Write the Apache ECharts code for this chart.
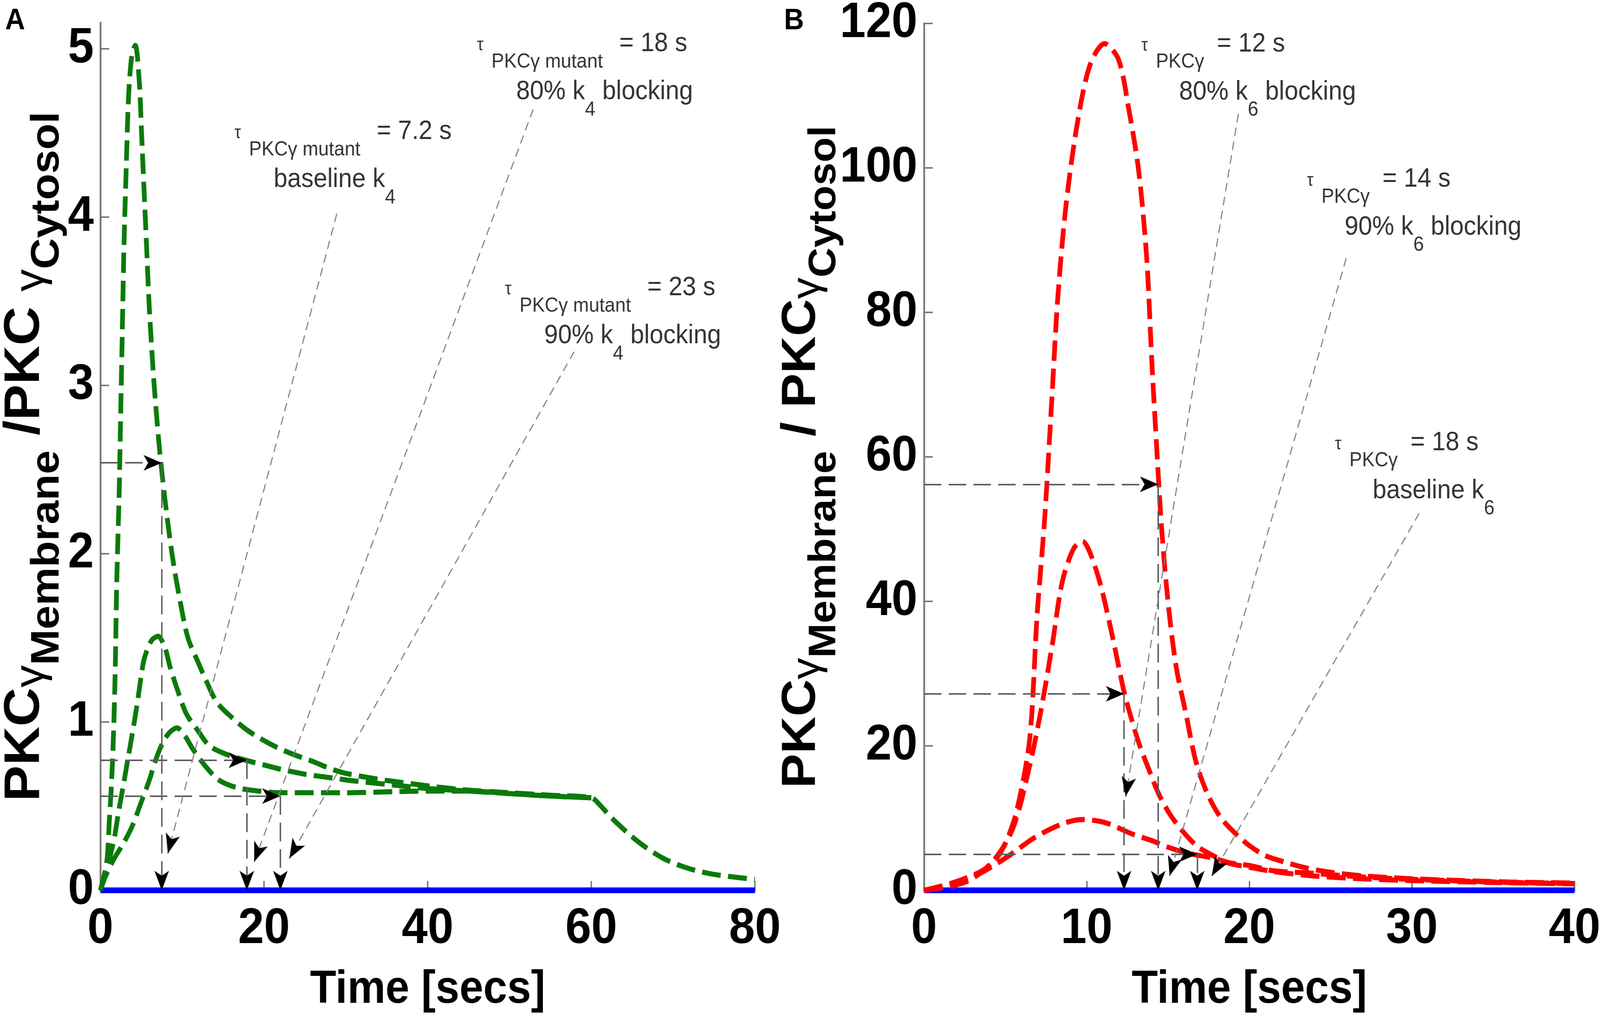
<!DOCTYPE html>
<html>
<head>
<meta charset="utf-8">
<script src="https://cdn.jsdelivr.net/npm/echarts@6/dist/echarts.min.js"></script>
<style>
  html, body { margin: 0; padding: 0; background: #fff; overflow: hidden; }
  #chart { width: 4400px; height: 2612px; transform-origin: 0 0; }
</style>
</head>
<body>
<div id="chart"></div>
<script>
// ---- panel A: PKCγ mutant, k4 blocking (time in s, membrane/cytosol ratio) ----
var tA1 = [0, 0.6, 0.85, 1.1, 1.3, 1.55, 1.8, 2.0, 2.28, 2.48, 2.68, 2.88, 3.17, 3.47, 3.87, 4.27, 4.75, 5.05, 5.35, 5.65, 5.95, 6.35, 6.75, 7.35, 7.95, 8.75, 9.7, 10.7, 11.9, 12.8, 14.2, 16, 18, 20, 22, 24, 26, 28, 30, 34, 37, 41, 45, 50, 55, 60, 61, 62.6, 65.7, 68.8, 71.9, 75, 80];
var yA1 = [0, 0.12, 0.2, 0.42, 0.58, 0.85, 1.28, 1.83, 2.33, 2.83, 3.32, 3.82, 4.31, 4.74, 4.97, 5.02, 4.81, 4.48, 4.15, 3.82, 3.49, 3.16, 2.89, 2.56, 2.30, 2.0, 1.73, 1.50, 1.36, 1.26, 1.12, 1.03, 0.95, 0.89, 0.84, 0.80, 0.765, 0.725, 0.695, 0.66, 0.64, 0.615, 0.595, 0.58, 0.565, 0.55, 0.51, 0.425, 0.29, 0.19, 0.13, 0.095, 0.065];
var tA2 = [0, 0.6, 1.13, 1.7, 2.27, 2.83, 3.4, 3.97, 4.54, 5.24, 5.8, 6.35, 7.05, 7.9, 8.5, 9.36, 10.5, 11.9, 13.3, 15.3, 18, 20, 22, 25, 28, 31, 35, 40, 45, 50, 55, 60];
var yA2 = [0, 0.1, 0.19, 0.31, 0.48, 0.63, 0.79, 0.95, 1.12, 1.35, 1.44, 1.49, 1.51, 1.44, 1.33, 1.2, 1.05, 0.95, 0.86, 0.81, 0.77, 0.745, 0.72, 0.69, 0.67, 0.65, 0.63, 0.605, 0.59, 0.575, 0.56, 0.55];
var tA3 = [0, 0.6, 1.7, 2.83, 3.97, 4.96, 5.95, 6.8, 7.65, 8.5, 9.36, 10.3, 11.3, 12.8, 14.5, 16.7, 19.3, 22, 26, 30, 35, 40, 45, 50, 55, 60];
var yA3 = [0, 0.08, 0.19, 0.28, 0.39, 0.52, 0.65, 0.78, 0.88, 0.94, 0.965, 0.92, 0.84, 0.74, 0.655, 0.61, 0.59, 0.58, 0.58, 0.58, 0.585, 0.59, 0.59, 0.575, 0.56, 0.55];
var baseA = [[0, 0], [80, 0]];
var tauPointA = [[7.5, 2.54], [17.9, 0.773], [22.0, 0.56]];
var calloutA = [[[28.9, 4.02], [8.25, 0.22]], [[52.9, 4.64], [18.8, 0.17]], [[57.9, 3.20], [23.1, 0.19]]];
var tauA = ['7.2', '18', '23'];
var noteA = ['baseline k', '80% k', '90% k'];
var noteAnchorA = [[16.40, 4.584], [46.04, 5.106], [49.47, 3.656]];
var yTicksA = [0, 1, 2, 3, 4, 5];

// ---- panel B: k6 blocking ----
var tB1 = [0, 1.7, 3.4, 4.3, 5.0, 5.7, 6.5, 6.95, 7.42, 7.9, 8.2, 8.7, 9.4, 10.2, 11.1, 11.96, 12.6, 13.2, 13.7, 14.0, 14.35, 14.6, 15.0, 15.5, 16.1, 16.7, 17.4, 18.2, 19.0, 20, 21, 22.2, 23.5, 25, 27, 30, 33, 36, 40];
var yB1 = [0, 1.0, 2.5, 4.0, 6.5, 11, 21, 38, 51.5, 69.6, 81.2, 94.2, 105.8, 114.2, 117.2, 115, 108, 99.6, 87.3, 73.5, 59.6, 50.4, 40, 31, 24.5, 18, 13.5, 10.2, 8.2, 6.2, 4.8, 3.9, 3.1, 2.5, 2.0, 1.6, 1.35, 1.15, 1.0];
var tB2 = [0, 2.6, 4.3, 5.5, 6.5, 7.2, 7.9, 8.5, 9.2, 9.75, 10.25, 10.9, 11.6, 12.3, 12.85, 13.3, 13.85, 14.4, 15.1, 15.9, 16.8, 17.7, 18.7, 20, 21.5, 23.9, 27, 30, 35, 40];
var yB2 = [0, 1.2, 4.2, 8.8, 17.3, 25, 34.2, 42.7, 47.3, 48.3, 46.5, 41.9, 35, 27.5, 23, 19.8, 16.6, 13.5, 10.6, 8.2, 6.1, 4.9, 3.8, 3.2, 2.6, 2.0, 1.6, 1.35, 1.1, 0.9];
var tB3 = [0, 1.7, 3.4, 5.1, 6.8, 8.5, 9.7, 11.1, 12.8, 14, 15.1, 16.3, 17.7, 18.8, 20.1, 21.5, 23.7, 26, 29, 33, 36, 40];
var yB3 = [0, 0.8, 2.3, 4.6, 7.3, 9.2, 9.8, 9.4, 7.8, 6.9, 5.9, 5.1, 4.5, 3.8, 3.4, 2.7, 2.4, 2.0, 1.6, 1.3, 1.1, 0.95];
var baseB = [[0, 0], [40, 0]];
var tauPointB = [[14.4, 56.2], [12.3, 27.2], [16.8, 5.0]];
var calloutB = [[[19.33, 107.5], [12.4, 13.0]], [[25.96, 87.5], [15.1, 2.0]], [[30.45, 52.2], [17.7, 2.0]]];
var tauB = ['12', '14', '18'];
var noteB = ['80% k', '90% k', 'baseline k'];
var noteAnchorB = [[13.37, 118.95], [23.55, 100.25], [25.27, 63.76]];
var yTicksB = [0, 20, 40, 60, 80, 100, 120];

var FONT = "'Liberation Sans', Arial, sans-serif";
var GREEN = '#0a7a0a';
var RED = '#ff0000';
var BLUE = '#0000ff';
var AXIS = '#7a7a7a';

var guideStyle = { color: '#5e5e5e', width: 4, type: [48, 20] };
var calloutStyle = { color: '#808080', width: 3, type: [22, 14] };
var tipStyle = { color: '#000', width: 2, type: 'solid' };

function pairs(t, v) {
  return t.map(function (x, i) { return [x, v[i]]; });
}

// a tiny solid piece at the end of a guide, only there to carry a black arrow head
function tip(from, to) {
  var f = 0.004;
  return [
    { coord: [to[0] + (from[0] - to[0]) * f, to[1] + (from[1] - to[1]) * f], lineStyle: tipStyle },
    { coord: to, symbol: 'arrow', symbolSize: [30, 50] }
  ];
}

function markLines(tauPoints, callouts) {
  var out = [];
  tauPoints.forEach(function (p) {
    var left = [0, p[1]], foot = [p[0], 0];
    out.push([{ coord: left, lineStyle: guideStyle }, { coord: p }]);
    out.push(tip(left, p));
    out.push([{ coord: p, lineStyle: guideStyle }, { coord: foot }]);
    out.push(tip(p, foot));
  });
  callouts.forEach(function (c) {
    out.push([{ coord: c[0], lineStyle: calloutStyle }, { coord: c[1] }]);
    out.push(tip(c[0], c[1]));
  });
  return out;
}

var noteRich = {
  tau: { fontSize: 46, lineHeight: 46, padding: [15, 0, 0, 0], verticalAlign: 'top' },
  sub: { fontSize: 52, lineHeight: 52, padding: [54, 0, 0, 22], verticalAlign: 'top' },
  eqA: { fontSize: 68, lineHeight: 68, padding: [0, 0, 0, 45], verticalAlign: 'top' },
  eqB: { fontSize: 68, lineHeight: 68, padding: [0, 0, 0, 35], verticalAlign: 'top' },
  spA: { fontSize: 68, lineHeight: 68, width: 108, padding: [55, 0, 0, 0], verticalAlign: 'top' },
  spB: { fontSize: 68, lineHeight: 68, width: 104, padding: [55, 0, 0, 0], verticalAlign: 'top' },
  b2: { fontSize: 68, lineHeight: 68, padding: [55, 0, 0, 0], verticalAlign: 'top' },
  s2: { fontSize: 52, lineHeight: 52, padding: [109, 0, 0, 0], verticalAlign: 'top' }
};

function notes(anchors, taus, texts, who, panel, k) {
  return anchors.map(function (a, i) {
    var txt = '{tau|τ}{sub|' + who + '}{eq' + panel + '|= ' + taus[i] + ' s}\n' +
      '{sp' + panel + '| }{b2|' + texts[i] + '}{s2|' + k + '}' +
      (texts[i].indexOf('%') >= 0 ? '{b2| blocking}' : '');
    return { value: a, label: { formatter: txt } };
  });
}

function noteSeries(xi, data) {
  return {
    type: 'scatter', xAxisIndex: xi, yAxisIndex: xi, data: data,
    symbolSize: 1, itemStyle: { color: 'rgba(0,0,0,0)' }, silent: true, z: 6, clip: false,
    label: {
      show: true, position: [0, 0], align: 'left', verticalAlign: 'top',
      color: '#000', fontFamily: FONT, fontWeight: 'normal', rich: noteRich
    }
  };
}

function curve(xi, t, v, color) {
  return {
    type: 'line', xAxisIndex: xi, yAxisIndex: xi, data: pairs(t, v),
    showSymbol: false, smooth: 0.3, silent: true, z: 3,
    lineStyle: { color: color, width: 13, type: [52, 20] }
  };
}

function baseline(xi, data, tau, call) {
  return {
    type: 'line', xAxisIndex: xi, yAxisIndex: xi, data: data,
    showSymbol: false, silent: true, z: 2,
    lineStyle: { color: BLUE, width: 15 },
    markLine: {
      silent: true, symbol: 'none', label: { show: false },
      data: markLines(tau, call)
    }
  };
}

function xAxis(gi, max, step) {
  return {
    type: 'value', gridIndex: gi, min: 0, max: max, interval: step,
    axisLine: { show: true, onZero: false, lineStyle: { color: AXIS, width: 5 } },
    axisTick: { show: true, inside: true, length: 24, lineStyle: { color: AXIS, width: 4 } },
    axisLabel: { color: '#000', fontSize: 128, fontWeight: 'bold', fontFamily: FONT, margin: 36 },
    splitLine: { show: false },
    name: 'Time [secs]', nameLocation: 'middle', nameGap: 196,
    nameTextStyle: { color: '#000', fontSize: 118, fontWeight: 'bold', fontFamily: FONT }
  };
}

function yAxis(gi, max, ticks, name, gap, rich) {
  return {
    type: 'value', gridIndex: gi, min: 0, max: max,
    axisLine: { show: true, lineStyle: { color: AXIS, width: 5 } },
    axisTick: { show: true, inside: true, length: 24, customValues: ticks, lineStyle: { color: AXIS, width: 4 } },
    axisLabel: { color: '#000', fontSize: 128, fontWeight: 'bold', fontFamily: FONT, margin: 18, customValues: ticks },
    splitLine: { show: false },
    name: name, nameLocation: 'middle', nameGap: gap, nameRotate: 90, nameMoveOverlap: false,
    nameTextStyle: { color: '#000', fontFamily: FONT, fontWeight: 'bold', rich: rich }
  };
}

var titleRichA = {
  m: { fontSize: 138, lineHeight: 138, fontWeight: 'bold', fontFamily: FONT, verticalAlign: 'top' },
  g: { fontSize: 115, lineHeight: 115, fontWeight: 'normal', fontFamily: FONT, padding: [30, 0, 0, 0], verticalAlign: 'top' },
  s: { fontSize: 110, lineHeight: 110, fontWeight: 'bold', fontFamily: FONT, padding: [76, 0, 0, 0], verticalAlign: 'top' }
};
var titleRichB = {
  m: { fontSize: 132, lineHeight: 132, fontWeight: 'bold', fontFamily: FONT, verticalAlign: 'top' },
  g: { fontSize: 110, lineHeight: 110, fontWeight: 'normal', fontFamily: FONT, padding: [28, 0, 0, 0], verticalAlign: 'top' },
  s: { fontSize: 106, lineHeight: 106, fontWeight: 'bold', fontFamily: FONT, padding: [76, 0, 0, 0], verticalAlign: 'top' }
};

// the layout is written for a 4400 x 2612 frame; stretch that frame over the real viewport
var el = document.getElementById('chart');
var sx = (window.innerWidth || 4400) / 4400;
var sy = (window.innerHeight || 2612) / 2612;
el.style.transform = 'scale(' + sx + ',' + sy + ')';

var chart = echarts.init(el, null, { devicePixelRatio: (window.devicePixelRatio || 1) * Math.max(sx, sy) });
chart.setOption({
  animation: false,
  backgroundColor: '#fff',
  grid: [
    { left: 276, top: 58, width: 1800, height: 2222, outerBoundsMode: 'none' },
    { left: 2541, top: 60, width: 1789, height: 2220, outerBoundsMode: 'none' }
  ],
  xAxis: [xAxis(0, 80, 20), xAxis(1, 40, 10)],
  yAxis: [
    yAxis(0, 5.155, yTicksA, '{m|PKC}{g|γ}{s|Membrane}{m| /PKC }{g|γ}{s|Cytosol}', 138, titleRichA),
    yAxis(1, 120, yTicksB, '{m|PKC}{g|γ}{s|Membrane}{m| / PKC}{g|γ}{s|Cytosol}', 270, titleRichB)
  ],
  graphic: [
    { type: 'text', left: 14, top: 16, style: { text: 'A', font: 'bold 76px ' + FONT, fill: '#000' } },
    { type: 'text', left: 2156, top: 16, style: { text: 'B', font: 'bold 76px ' + FONT, fill: '#000' } }
  ],
  series: [
    baseline(0, baseA, tauPointA, calloutA),
    curve(0, tA1, yA1, GREEN),
    curve(0, tA2, yA2, GREEN),
    curve(0, tA3, yA3, GREEN),
    noteSeries(0, notes(noteAnchorA, tauA, noteA, 'PKCγ mutant', 'A', '4')),
    baseline(1, baseB, tauPointB, calloutB),
    curve(1, tB1, yB1, RED),
    curve(1, tB2, yB2, RED),
    curve(1, tB3, yB3, RED),
    noteSeries(1, notes(noteAnchorB, tauB, noteB, 'PKCγ', 'B', '6'))
  ]
});
</script>
</body>
</html>
